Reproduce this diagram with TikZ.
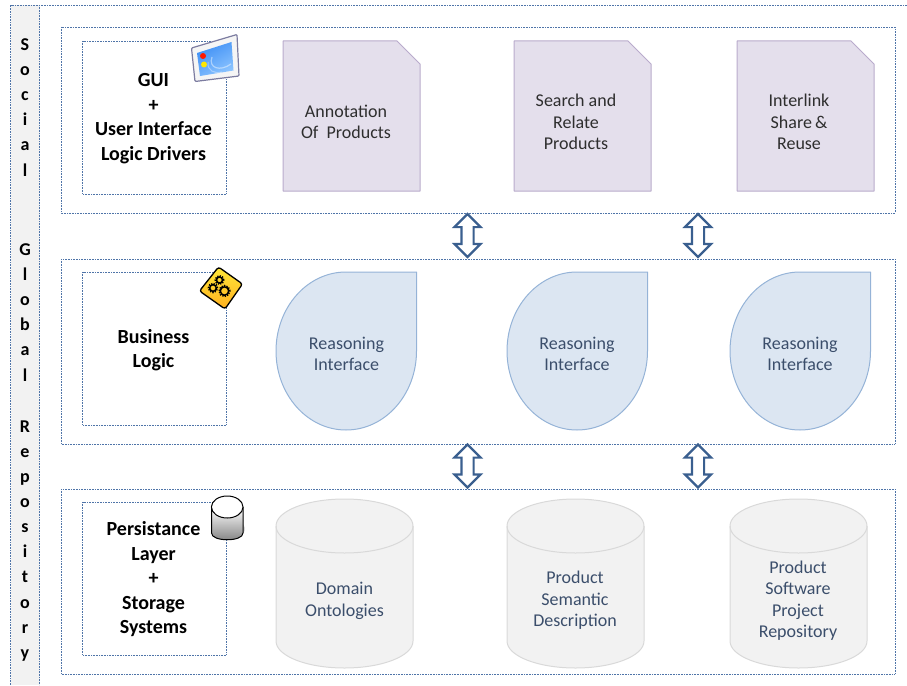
\documentclass[tikz,border=0pt]{standalone}
\usepackage{fontspec}
\setmainfont{Carlito}
\usetikzlibrary{shapes.arrows,shadings}
\definecolor{dotblue}{HTML}{4F74A8}
\definecolor{arrowblue}{HTML}{3A5F8F}
\definecolor{docfill}{HTML}{E4DFEC}
\definecolor{docline}{HTML}{B9ABCC}
\definecolor{dropfill}{HTML}{DCE6F2}
\definecolor{dropline}{HTML}{95B3D7}
\definecolor{cylfill}{HTML}{F2F2F2}
\definecolor{cylline}{HTML}{D9D9D9}
\definecolor{bluetext}{HTML}{3B4E6B}
\definecolor{iconblue}{HTML}{3E8FF5}
\definecolor{iconpale}{HTML}{8CC4FF}
\definecolor{iconframe}{HTML}{7C7CA0}
\definecolor{signtop}{HTML}{FFE838}
\definecolor{signbot}{HTML}{FFB020}
\tikzset{
  dotline/.style={draw=dotblue,line width=.8pt,dash pattern=on .8pt off .8pt},
  panel/.style={dotline},
  heading/.style={font=\fontsize{20}{24.5}\selectfont\bfseries,align=center,text=black,inner sep=0pt},
  bandtext/.style={font=\fontsize{18}{25.1}\selectfont\bfseries,align=center,text=black,inner sep=0pt,anchor=north},
  doctext/.style={font=\fontsize{18}{21.3}\selectfont,align=center,text=black!82,inner sep=0pt},
  bluelabel/.style={font=\fontsize{18}{21.5}\selectfont,align=center,text=bluetext,inner sep=0pt},
  docshape/.style={fill=docfill,draw=docline,line width=1pt,line join=round},
  dropshape/.style={fill=dropfill,draw=dropline,line width=1pt,line join=round},
  cylshape/.style={fill=cylfill,draw=cylline,line width=1pt},
  updown/.style={shape=double arrow,rotate=90,draw=arrowblue,line width=2.2pt,fill=white,
    minimum height=43pt,minimum width=24pt,inner sep=0pt,inner ysep=5pt,
    double arrow head extend=7pt,double arrow head indent=0pt},
}
\begin{document}
\begin{tikzpicture}[x=1pt,y=-1pt]
\useasboundingbox (0,0) rectangle (907,685);
% side band
\path[fill=cylfill] (10.5,5) rectangle (39.5,685);
\draw[dotline] (907,5) -- (10.5,5) -- (10.5,685);
\draw[dotline] (39.5,5) -- (39.5,685);
\node[bandtext] (social) at (25,38.5) {S\\o\\c\\i\\a\\l};
\node[bandtext] (global) at (25,243.5) {G\\l\\o\\b\\a\\l};
\node[bandtext] (repository) at (25,420.5) {R\\e\\p\\o\\s\\i\\t\\o\\r\\y};
% panels
\draw[panel] (61,27) rectangle (895,213);
\draw[panel] (61,259) rectangle (895,444);
\draw[panel] (61,489) rectangle (895,674);
% inner boxes
\draw[panel] (82.5,41) rectangle (226.5,194);
\draw[panel] (82.5,272) rectangle (226.5,425);
\draw[panel] (82.5,502) rectangle (226.5,655);
\node[heading] (gui) at (153.5,118.5) {GUI\\+\\User Interface\\Logic Drivers};
\node[heading] (business) at (153.5,350) {Business\\Logic};
\node[heading] (persist) at (153.5,579.5) {Persistance\\Layer\\+\\Storage\\Systems};
% document shapes
\foreach \x in {283,514,737}{
  \draw[docshape,xshift=\x pt] (0,41) -- (114,41) -- (137,64) -- (137,191) -- (0,191) -- cycle;
}
\node[doctext] (annot) at (346,122) {Annotation\\Of\ \ Products};
\node[doctext] (search) at (576,122) {Search and\\Relate\\Products};
\node[doctext] (inter) at (799,122) {Interlink\\Share\,\&\\Reuse};
% teardrops
\foreach \x in {276,507,730}{
  \draw[dropshape,xshift=\x pt] (70,272) -- (140.5,272) -- (140.5,351)
    .. controls (140.5,394.6) and (109,430) .. (70,430)
    .. controls (31.3,430) and (0,394.6) .. (0,351)
    .. controls (0,307.4) and (31.3,272) .. (70,272) -- cycle;
}
\node[bluelabel] (r1) at (346.5,354) {Reasoning\\Interface};
\node[bluelabel] (r2) at (577,354) {Reasoning\\Interface};
\node[bluelabel] (r3) at (800,354) {Reasoning\\Interface};
% cylinders
\foreach \x in {276,507,730}{
  \begin{scope}[xshift=\x pt]
  \draw[cylshape] (0,526) .. controls (0,511) and (30.7,499) .. (68.5,499)
    .. controls (106.3,499) and (137,511) .. (137,526) -- (137,641)
    .. controls (137,656) and (106.3,668) .. (68.5,668)
    .. controls (30.7,668) and (0,656) .. (0,641) -- cycle;
  \draw[cylline,line width=1pt] (0,526) .. controls (0,541) and (30.7,553) .. (68.5,553)
    .. controls (106.3,553) and (137,541) .. (137,526);
  \end{scope}
}
\node[bluelabel] (c1) at (344.5,601) {Domain\\Ontologies};
\node[bluelabel] (c2) at (575,600.5) {Product\\Semantic\\Description};
\node[bluelabel] (c3) at (798,600.5) {Product\\Software\\Project\\Repository};
% double arrows
\node[updown] (a1) at (467.5,235.5) {};
\node[updown] (a2) at (698,235.5) {};
\node[updown] (a3) at (467.5,466) {};
\node[updown] (a4) at (698,466) {};
% GUI icon
\draw[line width=1.2pt,draw=iconframe,fill=black!4,rounded corners=1pt]
  (191.5,48) -- (237,34.5) -- (239,76) -- (195,81.5) -- cycle;
\shade[left color=iconblue,right color=iconpale,shading angle=30]
  (197,53) -- (231.5,42) -- (233.5,70.5) -- (200,76) -- cycle;
\draw[white,opacity=.45,line width=1.2pt] (212,57) .. controls (208,68) and (220,72) .. (231,64);
\draw[white,opacity=.35,line width=1pt] (208,62) .. controls (207,71) and (215,74) .. (222,72);
\fill[red!80!orange] (203,56) circle (3pt);
\fill[yellow!90!orange] (204,64.5) circle (3pt);
% gear sign
\draw[black,line width=1.3pt,rounded corners=2.5pt,top color=signtop,bottom color=signbot]
  (218.5,267) -- (242.5,284) -- (225,309) -- (199.5,291) -- cycle;
\foreach \gx/\gy/\gr in {219.5/280/3,213/288/3.3,224.5/291/4.2}{
  \draw[black,line width=1.5pt] (\gx,\gy) circle (\gr pt);
  \draw[black,line width=1.6pt,dash pattern=on 1.3pt off 1.2pt] (\gx,\gy) circle (\gr pt+1.2pt);
}
% small database icon
\fill[black!15] (224,535) .. controls (234,540) and (246,535) .. (245,528) .. controls (244,522) and (238,522) .. (232,525) -- cycle;
\shade[top color=white,bottom color=black!50]
  (211.5,507) -- (243,507) -- (243,533) .. controls (243,542) and (211.5,542) .. (211.5,533) -- cycle;
\draw[black,line width=1pt] (211.5,507) -- (211.5,533) .. controls (211.5,542) and (243,542) .. (243,533) -- (243,507);
\draw[black,line width=1pt,fill=white] (227.2,507) ellipse (15.8pt and 11pt);
\end{tikzpicture}
\end{document}
